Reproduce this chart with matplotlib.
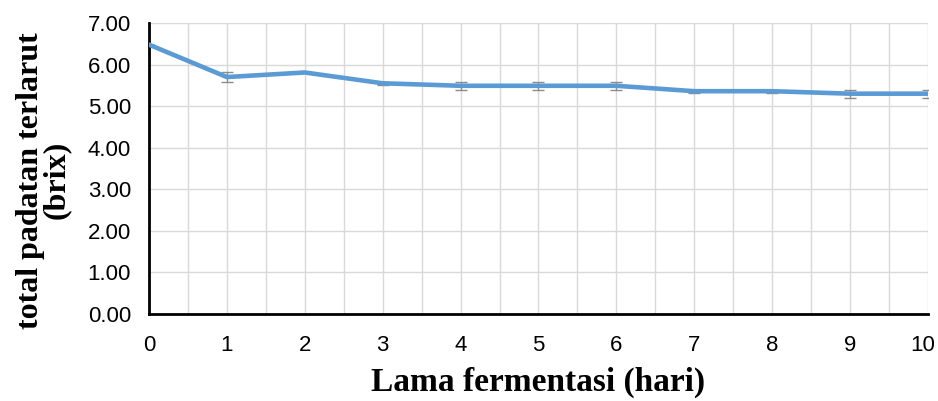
import numpy as np
import matplotlib.pyplot as plt
import matplotlib.transforms as mtransforms

# data
hari = [0, 1, 2, 3, 4, 5, 6, 7, 8, 9, 10]
brix = [6.48, 5.70, 5.81, 5.55, 5.49, 5.49, 5.49, 5.36, 5.36, 5.30, 5.30]
galat = [0.0, 0.11, 0.0, 0.03, 0.09, 0.09, 0.09, 0.04, 0.04, 0.10, 0.10]

fig = plt.figure(figsize=(9.38, 4.01), dpi=100)
ax = fig.add_axes([0.1588, 0.217, 0.8305, 0.7256])

ax.errorbar(hari, brix, yerr=galat, fmt='none', ecolor='#8c8c8c',
            elinewidth=1.0, capsize=4, capthick=1.0, zorder=2)
ax.plot(hari, brix, color='#5b9bd5', linewidth=3.3, solid_capstyle='round', zorder=3)

ax.set_xlim(0, 10)
ax.set_ylim(0, 7)
ax.set_xticks(range(0, 11))
ax.set_yticks(np.arange(0, 8, 1))
ax.set_yticklabels([f'{v:.2f}' for v in range(0, 8)])
ax.set_xticks(np.arange(0, 10.5, 0.5), minor=True)

ax.grid(which='both', axis='x', color='#d9d9d9', linewidth=1)
ax.grid(which='major', axis='y', color='#d9d9d9', linewidth=1)
ax.set_axisbelow(True)

for s in ['top', 'right']:
    ax.spines[s].set_visible(False)
ax.spines['left'].set_linewidth(2)
ax.spines['bottom'].set_linewidth(2)

ax.tick_params(which='both', length=0)
ax.tick_params(axis='x', pad=15, labelsize=16)
ax.tick_params(axis='y', pad=13, labelsize=16)
for t in ax.get_xticklabels() + ax.get_yticklabels():
    t.set_fontfamily('Liberation Sans')

# geser label "10" sedikit ke kiri supaya tidak terpotong
lbl10 = ax.get_xticklabels()[-1]
lbl10.set_transform(lbl10.get_transform() +
                    mtransforms.ScaledTranslation(-5 / 100, 0, fig.dpi_scale_trans))

ax.set_xlabel('Lama fermentasi (hari)', fontfamily='Liberation Serif',
              fontweight='bold', fontsize=24)
ax.xaxis.set_label_coords(0.5, -0.18)
ax.set_ylabel('total padatan terlarut\n(brix)', fontfamily='Liberation Serif',
              fontweight='bold', fontsize=23, linespacing=0.88)
ax.yaxis.set_label_coords(-0.1, 0.46)

plt.savefig('out.png', dpi=100)
